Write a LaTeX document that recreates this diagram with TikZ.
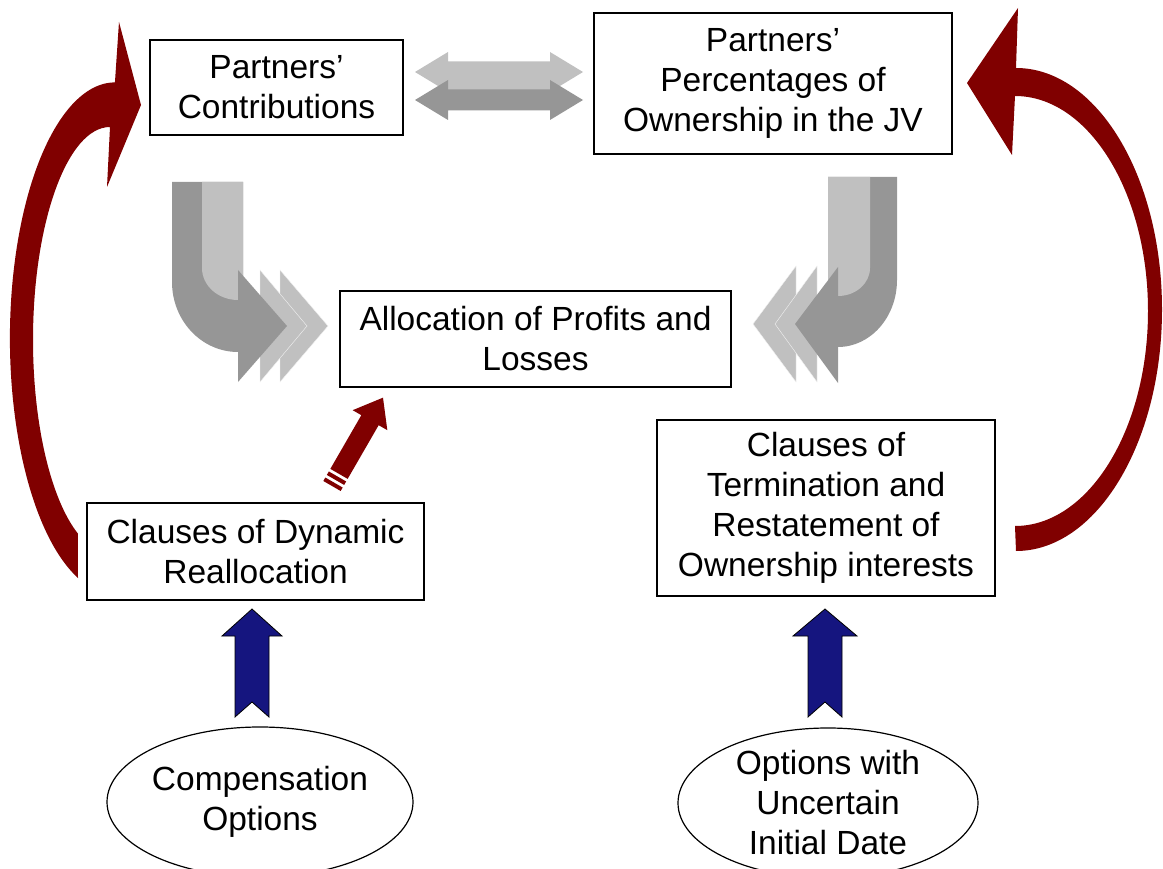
\documentclass[tikz,border=0pt]{standalone}
\usepackage{fontspec}
\setmainfont{Liberation Sans}
\usetikzlibrary{shapes.geometric}
\definecolor{deepred}{HTML}{800000}
\definecolor{navyfill}{HTML}{15157F}
\definecolor{palegrey}{HTML}{C0C0C0}
\definecolor{midgrey}{HTML}{969696}
\tikzset{
  block/.style={draw=black,line width=1.2pt,fill=white,align=center,
    inner sep=2pt,font=\fontsize{33.5}{40}\selectfont},
  oval/.style={ellipse,draw=black,line width=1.2pt,fill=white,align=center,
    inner xsep=0pt,inner ysep=-3pt,font=\fontsize{33.5}{40}\selectfont},
  pale/.style={fill=palegrey,draw=none},
  shade/.style={fill=midgrey,draw=none},
  loopback/.style={fill=deepred,draw=none},
  push/.style={fill=navyfill,draw=black,line width=0.8pt,line join=miter}
}

\begin{document}
\begin{tikzpicture}[x=1pt,y=-1pt]
  \useasboundingbox (0,0) rectangle (1163,869);
  \clip (0,0) rectangle (1163,869);

  % boxes
  \node[block,minimum width=253pt,minimum height=95pt] (contrib) at (276.5,87.5)
    {Partners’\\Contributions};
  \node[block,minimum width=358pt,minimum height=141pt] (owner) at (773,83.5)
    {Partners’\\Percentages of\\Ownership in the JV};
  \node[block,minimum width=391pt,minimum height=96pt] (alloc) at (535.5,339)
    {Allocation of Profits and\\Losses};
  \node[block,minimum width=337pt,minimum height=97pt] (dynamic) at (255.5,551.5)
    {Clauses of Dynamic\\Reallocation};
  \node[block,minimum width=338pt,minimum height=176pt] (termin) at (826,508)
    {Clauses of\\Termination and\\Restatement of\\Ownership interests};
  \node[oval,minimum width=306pt,minimum height=150pt] (compens) at (260,802)
    {Compensation\\Options};
  \node[oval,minimum width=300pt,minimum height=150pt] (uncert) at (828,803)
    {Options with\\Uncertain\\Initial Date};

  % grey double arrow between the top boxes
  \fill[pale] (415,72) -- (448,52) -- (448,61.5) -- (550,61.5) -- (550,52) -- (583,72)
    -- (550,92) -- (550,90) -- (448,90) -- (448,92) -- cycle;
  \begin{scope}[shift={(0,28)}]
    \fill[shade] (415,72) -- (448,52) -- (448,61.5) -- (550,61.5) -- (550,52) -- (583,72)
      -- (550,92) -- (550,82.5) -- (448,82.5) -- (448,92) -- cycle;
  \end{scope}

  % left bent arrow into the allocation
  \filldraw[pale,draw=white!80!palegrey,line width=0.4pt] (280,270) -- (328,326) -- (280,382) -- cycle;
  \filldraw[pale,draw=white!80!palegrey,line width=0.4pt] (260,270) -- (307,326) -- (260,382) -- cycle;
  \fill[shade] (172,182) -- (243,182) -- (243,300) -- (238,300) -- (238,352)
    arc[start angle=90,end angle=180,x radius=66,y radius=70] -- cycle;
  \fill[pale] (202,182) -- (243,182) -- (243,300) -- (238,300)
    arc[start angle=90,end angle=180,x radius=36,y radius=32] -- cycle;
  \fill[shade] (238,270) -- (287,326) -- (238,382) -- cycle;

  % right bent arrow into the allocation
  \filldraw[pale,draw=white!80!palegrey,line width=0.4pt] (796,266) -- (753,324) -- (796,382) -- cycle;
  \filldraw[pale,draw=white!80!palegrey,line width=0.4pt] (817,266) -- (775,324) -- (817,382) -- cycle;
  \fill[shade] (897,177) -- (828,177) -- (828,296) -- (838,296) -- (838,347)
    arc[start angle=90,end angle=0,x radius=59,y radius=67] -- cycle;
  \fill[pale] (870,177) -- (828,177) -- (828,296) -- (838,296)
    arc[start angle=90,end angle=0,x radius=32,y radius=28] -- cycle;
  \fill[shade] (838,267) -- (795,324) -- (838,383) -- cycle;

  % red loops back to the top boxes
  \fill[loopback] (78,578) arc[start angle=110.6,end angle=270,x radius=105,y radius=256]
    -- (119,22) -- (141,105) -- (107,187) -- (110,127)
    arc[start angle=270,end angle=114.6,x radius=77,y radius=213] -- cycle;
  \fill[loopback] (1016,551) arc[start angle=90,end angle=-90,x radius=146,y radius=241.5]
    -- (1018,8) -- (967,83) -- (1012,155) -- (1015,96)
    arc[start angle=-90,end angle=90,x radius=133,y radius=215] -- cycle;

  % small red arrow up to the allocation
  \begin{scope}[shift={(332,486)},rotate=60]
    \fill[loopback] (14,-10) -- (76,-10) -- (76,-20) -- (102,0) -- (76,20) -- (76,10)
      -- (14,10) -- cycle;
    \fill[loopback] (0,-10) rectangle (4,10);
    \fill[loopback] (7,-10) rectangle (11,10);
  \end{scope}

  % blue arrows from the options
  \draw[push] (252,609) -- (282,636) -- (269,636) -- (269,717) -- (252,702) -- (235,717)
    -- (235,636) -- (222,636) -- cycle;
  \draw[push] (825,609) -- (857,636) -- (842,636) -- (842,717) -- (825,702) -- (808,717)
    -- (808,636) -- (793,636) -- cycle;
\end{tikzpicture}
\end{document}
